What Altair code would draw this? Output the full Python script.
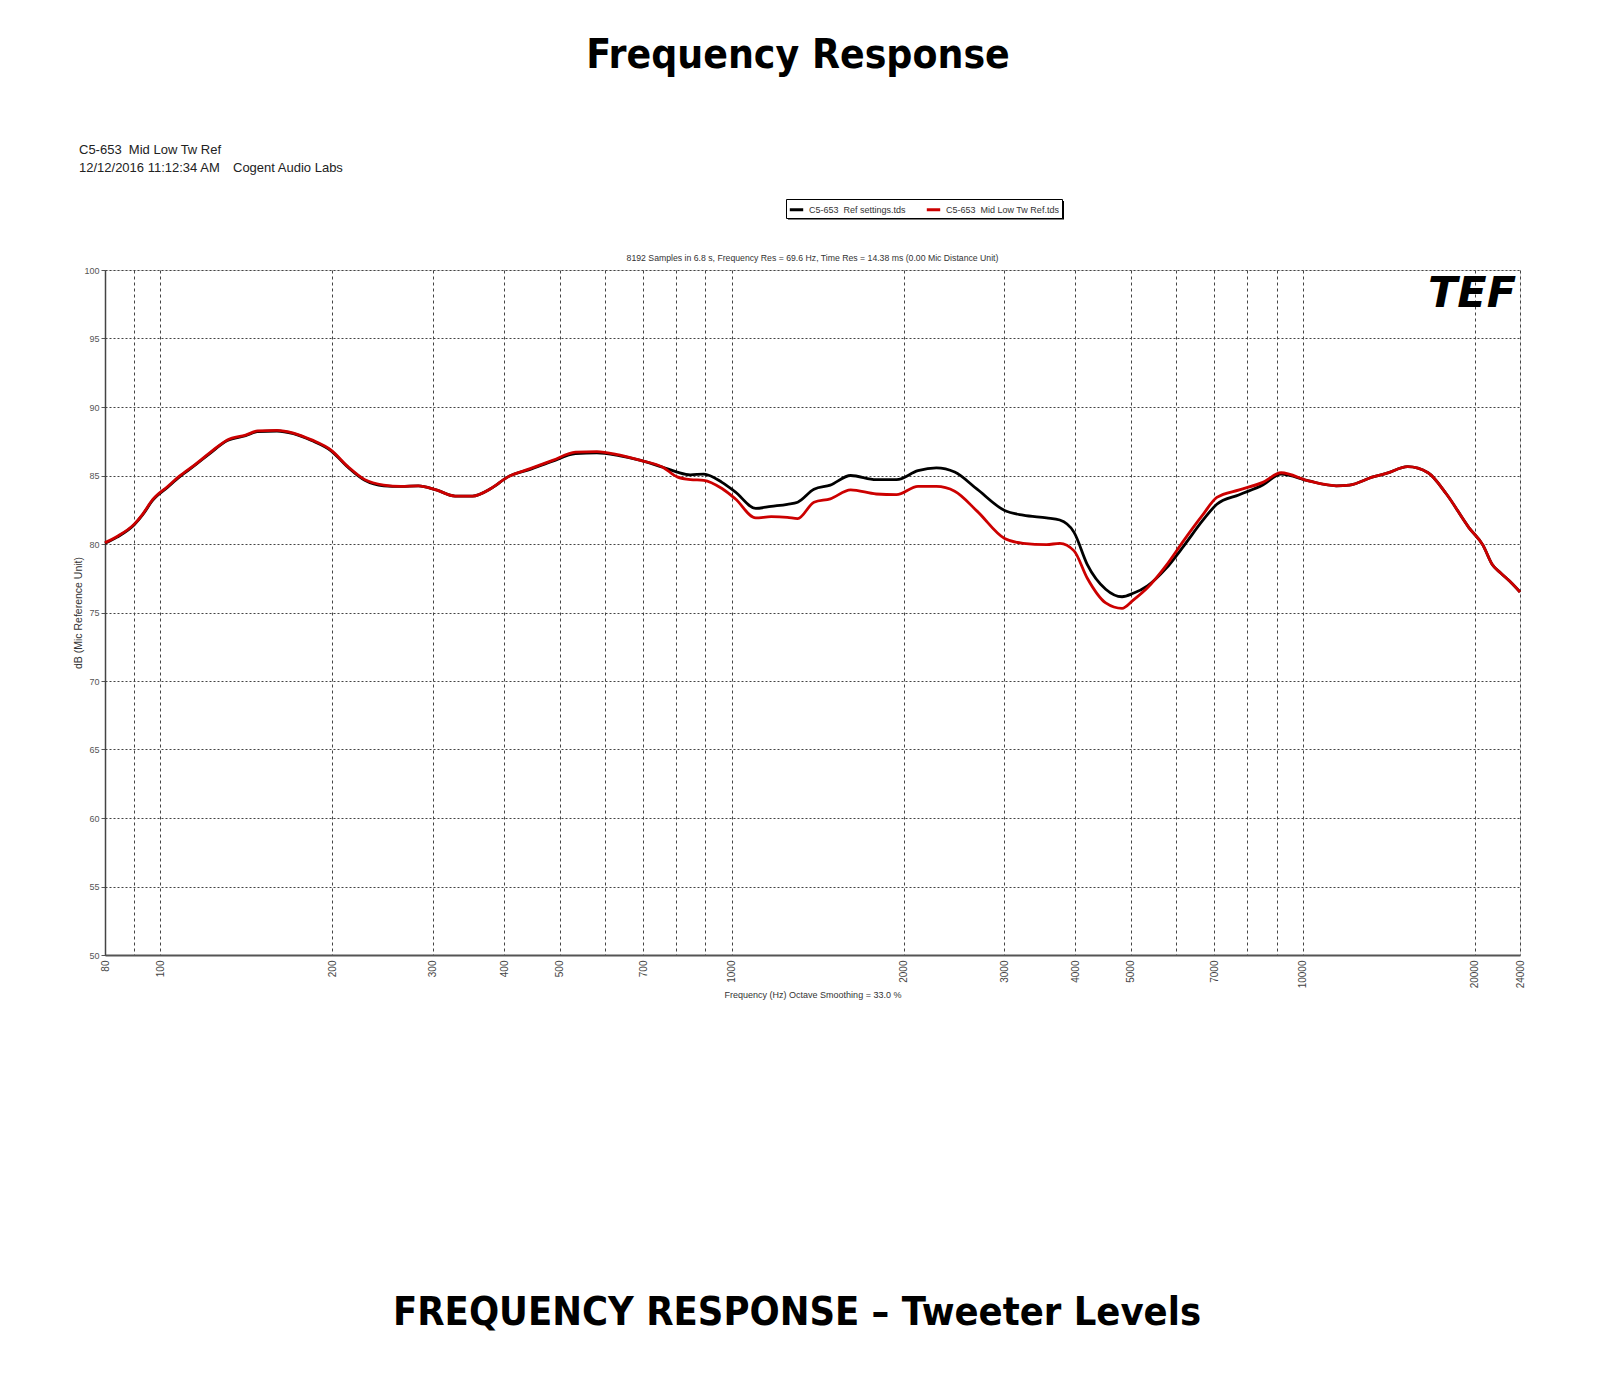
import altair as alt
import pandas as pd

# ---------------- data ----------------
freq = [80, 84, 90, 93, 97, 103, 108, 115, 122, 131, 141, 148, 160, 171, 184, 199,
        213, 228, 246, 264, 283, 304, 328, 352, 379, 406, 444, 486, 533, 581, 635,
        693, 758, 803, 847, 894, 962, 1015, 1102, 1173, 1252, 1305, 1394, 1489, 1616,
        1791, 1944, 2120, 2283, 2458, 2690, 3006, 3238, 3559, 3754, 3977, 4195, 4518,
        4825, 5048, 5346, 5758, 6200, 6675, 7071, 7741, 8510, 9162, 10240, 11440,
        12070, 13270, 14000, 15260, 16570, 17840, 19530, 20680, 21460, 22180, 23010,
        24000]

ref_db = [80.05, 80.5, 81.4, 82.1, 83.2, 84.15, 84.9, 85.75, 86.6, 87.55, 87.9, 88.2,
          88.25, 88.05, 87.55, 86.8, 85.6, 84.65, 84.25, 84.2, 84.25, 83.95, 83.5, 83.5,
          84.05, 84.9, 85.45, 86.05, 86.6, 86.65, 86.45, 86.1, 85.6, 85.25, 85.05, 85.1,
          84.5, 83.8, 82.6, 82.75, 82.9, 83.05, 84.0, 84.3, 85.0, 84.7, 84.7, 85.35,
          85.55, 85.25, 84.0, 82.45, 82.1, 81.9, 81.75, 80.85, 78.5, 76.7, 76.15, 76.4,
          76.95, 78.2, 79.9, 81.7, 82.9, 83.6, 84.3, 85.1, 84.6, 84.25, 84.3, 84.9,
          85.15, 85.65, 85.2, 83.65, 81.2, 79.9, 78.5, 77.9, 77.3, 76.5]

mid_db = [80.1, 80.55, 81.45, 82.15, 83.25, 84.2, 84.95, 85.8, 86.65, 87.6, 87.95, 88.25,
          88.3, 88.1, 87.6, 86.85, 85.65, 84.7, 84.3, 84.2, 84.25, 83.95, 83.5, 83.5,
          84.05, 84.9, 85.5, 86.1, 86.7, 86.75, 86.5, 86.1, 85.6, 84.9, 84.7, 84.65,
          84.05, 83.3, 81.9, 82.0, 81.95, 81.85, 83.05, 83.3, 83.95, 83.65, 83.6, 84.2,
          84.2, 83.85, 82.4, 80.4, 80.05, 79.95, 80.05, 79.5, 77.5, 75.7, 75.3, 75.9,
          76.8, 78.4, 80.3, 82.1, 83.4, 83.95, 84.5, 85.2, 84.6, 84.25, 84.3, 84.9,
          85.15, 85.65, 85.2, 83.65, 81.2, 79.9, 78.5, 77.9, 77.3, 76.5]

SER_REF = "C5-653\u00a0 Ref settings.tds"
SER_MID = "C5-653\u00a0 Mid Low Tw Ref.tds"

x_grid = [80, 90, 100, 200, 300, 400, 500, 600, 700, 800, 900, 1000, 2000, 3000,
          4000, 5000, 6000, 7000, 8000, 9000, 10000, 20000, 24000]
x_unlabeled = [90, 600, 800, 900, 6000, 8000, 9000]
y_ticks = [50, 55, 60, 65, 70, 75, 80, 85, 90, 95, 100]

main_title = "Frequency Response"
bottom_title = "FREQUENCY RESPONSE \u2013 Tweeter Levels"
header1 = "C5-653\u00a0 Mid Low Tw Ref"
header2a = "12/12/2016 11:12:34 AM"
header2b = "Cogent Audio Labs"
plot_title = "8192 Samples in 6.8 s, Frequency Res = 69.6 Hz, Time Res = 14.38 ms (0.00 Mic Distance Unit)"
x_title = "Frequency (Hz) Octave Smoothing = 33.0 %"
y_title = "dB (Mic Reference Unit)"
logo = "TEF"

df = pd.concat([
    pd.DataFrame({"freq": freq, "db": ref_db, "series": SER_REF}),
    pd.DataFrame({"freq": freq, "db": mid_db, "series": SER_MID}),
], ignore_index=True)

SMALL_FONT = "Liberation Sans"
BIG_FONT = "DejaVu Sans Condensed"

label_expr = ("indexof([" + ",".join(str(v) for v in x_unlabeled) +
              "], datum.value) >= 0 ? '' : datum.label")

x_enc = alt.X("freq:Q",
              scale=alt.Scale(type="log", domain=[80, 24000], nice=False),
              axis=alt.Axis(values=x_grid, format="d", labelExpr=label_expr,
                            labelAngle=270, labelOverlap=False, labelFlush=False,
                            labelFont=SMALL_FONT, labelFontSize=10, labelColor="#444",
                            labelPadding=5, ticks=False,
                            title=x_title, titleFont=SMALL_FONT, titleFontSize=9,
                            titleFontWeight="normal", titleColor="#333", titlePadding=3,
                            grid=True, gridDash=[3, 3], gridColor="#444", gridWidth=1,
                            domainColor="#555", domainWidth=2))
y_enc = alt.Y("db:Q",
              scale=alt.Scale(domain=[50, 100], nice=False),
              axis=alt.Axis(values=y_ticks, labelFont=SMALL_FONT, labelFontSize=9,
                            labelColor="#555", labelPadding=2,
                            title=y_title, titleFont=SMALL_FONT, titleFontSize=10.5,
                            titleFontWeight="normal", titleColor="#333", titlePadding=0,
                            grid=True, gridDash=[2, 2], gridColor="#444", gridWidth=1,
                            tickColor="#555", tickSize=4,
                            domainColor="#444", domainWidth=1.5))
color_enc = alt.Color("series:N",
                      scale=alt.Scale(domain=[SER_REF, SER_MID], range=["#000000", "#cc0000"]),
                      legend=alt.Legend(title=None, orient="none", legendX=681, legendY=-71,
                                        direction="horizontal", symbolType="stroke",
                                        symbolSize=180, symbolStrokeWidth=3,
                                        labelFont=SMALL_FONT, labelFontSize=9,
                                        labelColor="#333", columnPadding=14,
                                        padding=2, strokeColor="#000",
                                        fillColor="#ffffff"))

base = alt.Chart(df)
black_line = base.transform_filter(alt.datum.series == SER_REF).mark_line(
    strokeWidth=2.8, interpolate="monotone").encode(x=x_enc, y=y_enc, color=color_enc)
red_line = base.transform_filter(alt.datum.series == SER_MID).mark_line(
    strokeWidth=2.8, interpolate="monotone").encode(x=x_enc, y=y_enc, color=color_enc)

one = pd.DataFrame({"k": [0]})


def txt(text, x, y, **kw):
    return alt.Chart(one).mark_text(text=text, **kw).encode(x=alt.value(x), y=alt.value(y))


legend_shadow = alt.Chart(one).mark_rect(color="#000").encode(
    x=alt.value(683), x2=alt.value(959), y=alt.value(-69), y2=alt.value(-50.5))

layers = [
    legend_shadow,
    black_line,
    red_line,
    txt(plot_title, 707.5, -12, font=SMALL_FONT, fontSize=8.7, align="center",
        baseline="middle", color="#333"),
    txt(main_title, 693, -214, font=BIG_FONT, fontWeight="bold",
        fontSize=40.5, align="center", baseline="middle", color="#000"),
    txt(bottom_title, 692, 1043, font=BIG_FONT, fontWeight="bold",
        fontSize=39.5, align="center", baseline="middle", color="#000"),
    txt(header1, -26, -120, font=SMALL_FONT, fontSize=13, align="left",
        baseline="middle", color="#222"),
    txt(header2a, -26, -102, font=SMALL_FONT, fontSize=13, align="left",
        baseline="middle", color="#222"),
    txt(header2b, 128, -102, font=SMALL_FONT, fontSize=13, align="left",
        baseline="middle", color="#222"),
    txt(logo, 1367, 24, font="DejaVu Sans", fontWeight=900, fontStyle="italic",
        fontSize=43, align="center", baseline="middle", color="#000"),
]

chart = alt.layer(*layers).properties(
    width=1415, height=685,
    autosize=alt.AutoSizeParams(type="none"),
    padding={"left": 97, "top": 262, "right": 60, "bottom": 420},
).configure_view(stroke="#777", strokeWidth=1).configure(background="white")

chart.save("out.html", embed_options={"renderer": "svg", "actions": False})
